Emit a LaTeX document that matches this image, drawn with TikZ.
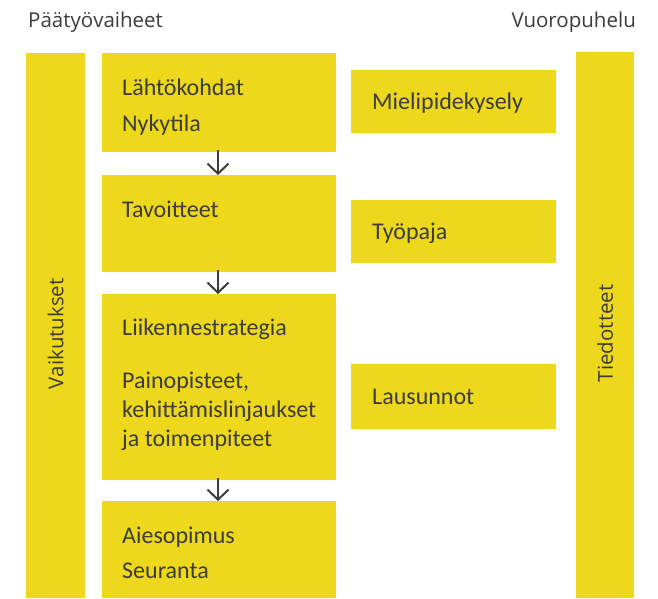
\documentclass[tikz,border=0pt]{standalone}
\usepackage{fontspec}
\setmainfont{Carlito}
\newfontfamily\headfont{Open Sans}
\usetikzlibrary{arrows.meta}
\definecolor{boxyellow}{HTML}{EDD81B}
\definecolor{txtgrey}{HTML}{3C3C3C}
\begin{document}
\begin{tikzpicture}[x=1pt,y=-1pt,
  ybox/.style={fill=boxyellow,draw=none,inner sep=0pt,anchor=north west},
  btxt/.style={anchor=base west,inner sep=0pt,text=txtgrey,font=\fontsize{24}{29}\selectfont},
  htxt/.style={anchor=base west,inner sep=0pt,text=txtgrey,font=\headfont\fontsize{20.5}{24}\selectfont},
  rtxt/.style={inner sep=0pt,text=txtgrey,font=\headfont\fontsize{20.5}{24}\selectfont,rotate=90},
  flowarrow/.style={draw=txtgrey,line width=2pt,-{Straight Barb[length=10pt,width=21pt,line width=2pt]}}]
\useasboundingbox (0,0) rectangle (658,598);
% headers
\node[htxt] (h1) at (28,27) {Päätyövaiheet};
\node[htxt,anchor=base east] (h2) at (636,27) {Vuoropuhelu};
% side bars
\node[ybox,minimum width=59pt,minimum height=545pt] (left) at (26,53) {};
\node[rtxt] (lefttxt) at ([yshift=-8pt]left.center) {Vaikutukset};
\node[ybox,minimum width=58pt,minimum height=546pt] (right) at (576,52) {};
\node[rtxt] (righttxt) at ([yshift=-8pt]right.center) {Tiedotteet};
% main column
\node[ybox,minimum width=234pt,minimum height=99pt] (b1) at (102,53) {};
\node[ybox,minimum width=234pt,minimum height=97pt] (b2) at (102,175) {};
\node[ybox,minimum width=234pt,minimum height=186pt] (b3) at (102,294) {};
\node[ybox,minimum width=234pt,minimum height=97pt] (b4) at (102,501) {};
\node[btxt] (t1a) at (122,95) {Lähtökohdat};
\node[btxt] (t1b) at (122,131) {Nykytila};
\node[btxt] (t2a) at (122,217) {Tavoitteet};
\node[btxt] (t3a) at (122,335) {Liikennestrategia};
\node[btxt] (t3b) at (122,388) {Painopisteet,};
\node[btxt] (t3c) at (122,417) {kehittämislinjaukset};
\node[btxt] (t3d) at (122,446) {ja toimenpiteet};
\node[btxt] (t4a) at (122,543) {Aiesopimus};
\node[btxt] (t4b) at (122,578) {Seuranta};
% middle column
\node[ybox,minimum width=205pt,minimum height=63pt] (m1) at (351,70) {};
\node[ybox,minimum width=205pt,minimum height=63pt] (m2) at (351,200) {};
\node[ybox,minimum width=205pt,minimum height=65pt] (m3) at (351,364) {};
\node[btxt] (mt1) at (372,109) {Mielipidekysely};
\node[btxt] (mt2) at (372,239) {Työpaja};
\node[btxt] (mt3) at (372,404) {Lausunnot};
% arrows
\draw[flowarrow] ([shift={(0,-2)}]b1.south -| 218,0) -- (b2.north -| 218,0);
\draw[flowarrow] ([shift={(0,-2)}]b2.south -| 218,0) -- (b3.north -| 218,0);
\draw[flowarrow] ([shift={(0,-2)}]b3.south -| 218,0) -- (b4.north -| 218,0);
\end{tikzpicture}
\end{document}
